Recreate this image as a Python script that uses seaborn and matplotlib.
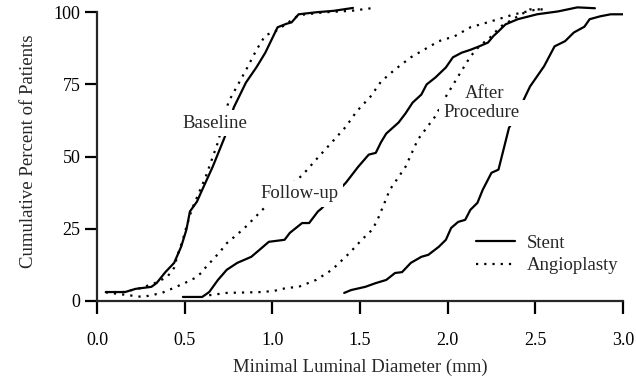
import pandas as pd
import matplotlib
matplotlib.use("Agg")
import matplotlib.pyplot as plt
from matplotlib.lines import Line2D
import seaborn as sns

# cumulative distribution curves (MLD in mm, % of patients)
baseline_stent_x = [0.05, 0.16, 0.22, 0.31, 0.34, 0.39, 0.44, 0.48, 0.51, 0.53, 0.57, 0.60, 0.66, 0.73,
                    0.78, 0.85, 0.91, 0.96, 1.03, 1.08, 1.11, 1.15, 1.25, 1.35, 1.46]
baseline_stent_y = [3.1, 3.1, 4.2, 4.9, 6.2, 10.0, 13.2, 18.8, 24.7, 31.0, 34.4, 38.5, 46.5, 57.0,
                    67.0, 75.7, 81.0, 86.0, 94.8, 96.0, 96.5, 99.3, 100.0, 100.5, 101.5]

baseline_angio_x = [0.05, 0.15, 0.25, 0.33, 0.40, 0.44, 0.46, 0.49, 0.50, 0.54, 0.62, 0.69, 0.75, 0.85,
                    0.91, 0.96, 1.02, 1.08, 1.15, 1.30, 1.45, 1.59]
baseline_angio_y = [3.1, 3.1, 4.5, 6.2, 8.3, 11.5, 16.0, 21.2, 23.6, 31.6, 43.0, 55.0, 69.0, 80.0,
                    87.0, 92.0, 93.5, 96.0, 99.0, 100.0, 100.5, 101.6]

followup_stent_x = [0.49, 0.60, 0.64, 0.69, 0.74, 0.80, 0.88, 0.94, 0.98, 1.07, 1.10, 1.17, 1.21, 1.26,
                    1.28, 1.35, 1.42, 1.49, 1.55, 1.59, 1.62, 1.65, 1.72, 1.76, 1.80, 1.85, 1.88, 1.93,
                    1.99, 2.03, 2.08, 2.13, 2.18, 2.23, 2.26, 2.29, 2.33, 2.40, 2.51, 2.63, 2.74, 2.84]
followup_stent_y = [1.4, 1.4, 3.1, 7.3, 10.8, 13.2, 15.3, 18.4, 20.5, 21.2, 23.6, 27.0, 27.0, 31.0,
                    32.0, 36.5, 41.0, 46.5, 50.7, 51.3, 55.0, 58.0, 61.8, 65.0, 68.7, 71.5, 75.0, 77.4,
                    80.9, 84.4, 86.0, 87.0, 88.2, 89.5, 91.7, 93.4, 95.8, 97.6, 99.3, 100.3, 101.7, 101.4]

followup_angio_x = [0.05, 0.18, 0.26, 0.31, 0.37, 0.41, 0.50, 0.56, 0.60, 0.63, 0.66, 0.71, 0.74, 0.81,
                    0.85, 0.96, 1.06, 1.17, 1.25, 1.34, 1.42, 1.48, 1.56, 1.62, 1.70, 1.79, 1.87, 1.95,
                    2.04, 2.13, 2.25, 2.38, 2.51, 2.55]
followup_angio_y = [3.0, 2.0, 1.4, 2.0, 2.8, 3.8, 6.2, 8.0, 10.0, 12.5, 14.2, 17.7, 20.0, 23.6,
                    25.8, 32.6, 38.0, 43.5, 49.0, 55.0, 60.4, 65.6, 70.8, 76.0, 80.2, 84.4, 87.2, 90.0,
                    91.7, 94.8, 96.9, 99.3, 101.0, 101.0]

after_stent_x = [1.41, 1.45, 1.53, 1.59, 1.65, 1.70, 1.74, 1.79, 1.85, 1.89, 1.95, 1.99, 2.02, 2.06,
                 2.10, 2.13, 2.17, 2.20, 2.25, 2.29, 2.35, 2.40, 2.44, 2.47, 2.55, 2.61, 2.67, 2.72,
                 2.78, 2.81, 2.87, 2.93, 3.00]
after_stent_y = [2.8, 3.8, 4.9, 6.2, 7.3, 9.7, 10.0, 13.2, 15.3, 16.0, 18.8, 21.2, 25.3, 27.4,
                 28.1, 31.6, 34.0, 38.5, 44.4, 45.5, 60.0, 65.0, 70.5, 74.3, 81.3, 88.2, 90.0, 93.0,
                 95.0, 97.6, 98.6, 99.3, 99.3]

after_angio_x = [0.64, 0.74, 0.94, 1.01, 1.08, 1.15, 1.25, 1.34, 1.44, 1.51, 1.57, 1.60, 1.64, 1.67,
                 1.76, 1.83, 1.93, 1.99, 2.06, 2.13, 2.18, 2.25, 2.30, 2.40, 2.47, 2.53]
after_angio_y = [2.0, 2.8, 3.1, 3.5, 4.5, 4.9, 7.3, 10.8, 16.6, 21.2, 24.7, 28.1, 34.0, 38.5,
                 46.5, 55.9, 64.0, 70.8, 77.8, 84.7, 88.2, 91.7, 95.0, 98.6, 101.0, 101.0]

x_ticks = [0.0, 0.5, 1.0, 1.5, 2.0, 2.5, 3.0]
y_ticks = [0, 25, 50, 75, 100]

curves = [
    ("Baseline", "Stent", baseline_stent_x, baseline_stent_y),
    ("Baseline", "Angioplasty", baseline_angio_x, baseline_angio_y),
    ("Follow-up", "Stent", followup_stent_x, followup_stent_y),
    ("Follow-up", "Angioplasty", followup_angio_x, followup_angio_y),
    ("After", "Stent", after_stent_x, after_stent_y),
    ("After", "Angioplasty", after_angio_x, after_angio_y),
]
frames = []
for phase, group, xs, ys in curves:
    frames.append(pd.DataFrame({"mld": xs, "pct": ys, "group": group, "curve": phase + " " + group}))
df = pd.concat(frames, ignore_index=True)

sns.set_style("ticks")
plt.rcParams["font.family"] = ["Liberation Serif", "DejaVu Serif"]

fig = plt.figure(figsize=(6.36, 3.83), dpi=100)
ax = fig.add_axes([0.1525, 0.2141, 0.827, 0.784])

dash_styles = {"Stent": "", "Angioplasty": (1, 2.7)}
sns.lineplot(data=df, x="mld", y="pct", style="group", units="curve", estimator=None, sort=False,
             dashes=dash_styles, color="black", lw=1.6, legend=False, ax=ax)

ax.set_xlim(0, 3.0)
ax.set_ylim(0, 104)
ax.set_xticks(x_ticks)
ax.set_xticklabels([f"{v:.1f}" for v in x_ticks])
ax.set_yticks(y_ticks)
ax.spines["top"].set_visible(False)
ax.spines["right"].set_visible(False)
ax.spines["left"].set_bounds(0, 100)
ax.spines["bottom"].set_bounds(0, 3.0)
for s in ["left", "bottom"]:
    ax.spines[s].set_linewidth(1.6)
ax.tick_params(axis="both", length=9, width=1.6, labelsize=13, colors="black")
ax.tick_params(axis="x", pad=13)
ax.tick_params(axis="y", pad=3)

ax.set_xlabel("Minimal Luminal Diameter (mm)", fontsize=13.5, labelpad=7)
ax.set_ylabel("Cumulative Percent of Patients", fontsize=13.5, labelpad=12)

box = dict(boxstyle="square,pad=0.25", fc="white", ec="none")
ax.text(0.674, 60.0, "Baseline", ha="center", va="baseline", fontsize=13.5, bbox=box, zorder=5)
ax.text(1.154, 35.6, "Follow-up", ha="center", va="baseline", fontsize=13.5, bbox=box, zorder=5)
ax.text(2.21, 70.3, "After", ha="center", va="baseline", fontsize=13.5, bbox=box, zorder=5)
ax.text(2.195, 63.6, "Procedure", ha="center", va="baseline", fontsize=13.5, bbox=box, zorder=5)

handles = [Line2D([], [], color="black", lw=1.6),
           Line2D([], [], color="black", lw=1.6, dashes=(1, 2.7))]
ax.legend(handles, ["Stent", "Angioplasty"], loc="upper left", bbox_to_anchor=(0.72, 0.2215),
          frameon=False, fontsize=13.5, borderpad=0, borderaxespad=0, handlelength=2.1,
          handletextpad=0.6, labelspacing=0.3)

plt.savefig("out.png", dpi=100)
